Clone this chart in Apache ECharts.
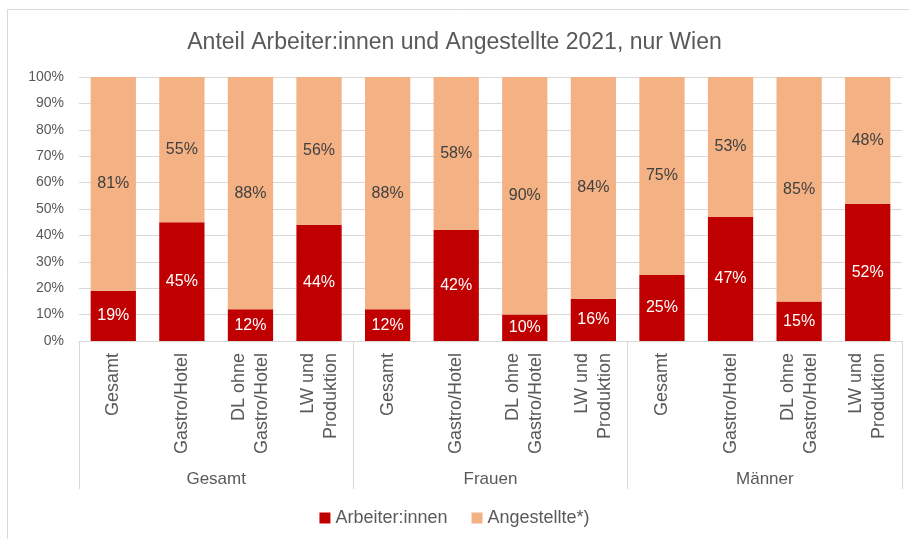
<!DOCTYPE html>
<html>
<head>
<meta charset="utf-8">
<script src="https://cdn.jsdelivr.net/npm/echarts@6/dist/echarts.min.js"></script>
<style>
  html, body { margin: 0; padding: 0; background: #fff; }
  #chart { width: 909px; height: 539px; }
</style>
</head>
<body>
<div id="chart"></div>
<script>
const categories = [
    'Gesamt', 'Gastro/Hotel', 'DL ohne\nGastro/Hotel', 'LW und\nProduktion',
    'Gesamt', 'Gastro/Hotel', 'DL ohne\nGastro/Hotel', 'LW und\nProduktion',
    'Gesamt', 'Gastro/Hotel', 'DL ohne\nGastro/Hotel', 'LW und\nProduktion'
];
const groups = ['Gesamt', 'Frauen', 'Männer'];
const arbeiter = [19, 45, 12, 44, 12, 42, 10, 16, 25, 47, 15, 52];
const angestellte = [81, 55, 88, 56, 88, 58, 90, 84, 75, 53, 85, 48];

const font = 'Liberation Sans, Arial, sans-serif';
const grey = '#595959';

const chart = echarts.init(document.getElementById('chart'));

chart.setOption({
    backgroundColor: '#fff',
    animation: false,
    textStyle: { fontFamily: font },
    title: {
        text: 'Anteil Arbeiter:innen und Angestellte 2021, nur Wien',
        left: 'center',
        top: 26,
        textStyle: { fontFamily: font, fontSize: 23, fontWeight: 'normal', color: grey }
    },
    legend: {
        bottom: 7,
        left: 'center',
        itemWidth: 11,
        itemHeight: 11,
        itemGap: 24,
        icon: 'rect',
        textStyle: { fontFamily: font, fontSize: 18, color: grey }
    },
    graphic: [{
        type: 'rect',
        shape: { x: 7.5, y: 9.5, width: 1000, height: 1000 },
        style: { fill: 'none', stroke: '#d9d9d9', lineWidth: 1 },
        silent: true
    }],
    grid: {
        left: 79,
        right: 7,
        top: 77,
        bottom: 198,
        outerBoundsMode: 'none'
    },
    xAxis: [
        {
            type: 'category',
            data: categories,
            axisLine: { show: true, lineStyle: { color: '#d9d9d9' } },
            axisTick: { show: false },
            axisLabel: {
                interval: 0,
                rotate: 90,
                margin: 12,
                fontSize: 18,
                lineHeight: 23,
                color: grey
            }
        },
        {
            type: 'category',
            data: groups,
            position: 'bottom',
            axisLine: { show: false },
            axisTick: { show: true, length: 148, lineStyle: { color: '#d9d9d9' } },
            axisLabel: { margin: 130, fontSize: 17, color: grey }
        }
    ],
    yAxis: {
        type: 'value',
        min: 0,
        max: 100,
        interval: 10,
        axisLine: { show: false },
        axisTick: { show: false },
        axisLabel: { formatter: '{value}%', fontSize: 14, color: grey, margin: 15 },
        splitLine: { lineStyle: { color: '#d9d9d9' } }
    },
    series: [
        {
            name: 'Arbeiter:innen',
            type: 'bar',
            stack: 'total',
            data: arbeiter,
            barWidth: '66%',
            itemStyle: { color: '#C00000' },
            label: {
                show: true,
                position: 'inside',
                formatter: '{c}%',
                fontSize: 16,
                color: '#fff'
            }
        },
        {
            name: 'Angestellte*)',
            type: 'bar',
            stack: 'total',
            data: angestellte,
            barWidth: '66%',
            itemStyle: { color: '#F4B183' },
            label: {
                show: true,
                position: 'inside',
                formatter: '{c}%',
                fontSize: 16,
                color: '#404040'
            }
        }
    ]
});
</script>
</body>
</html>
